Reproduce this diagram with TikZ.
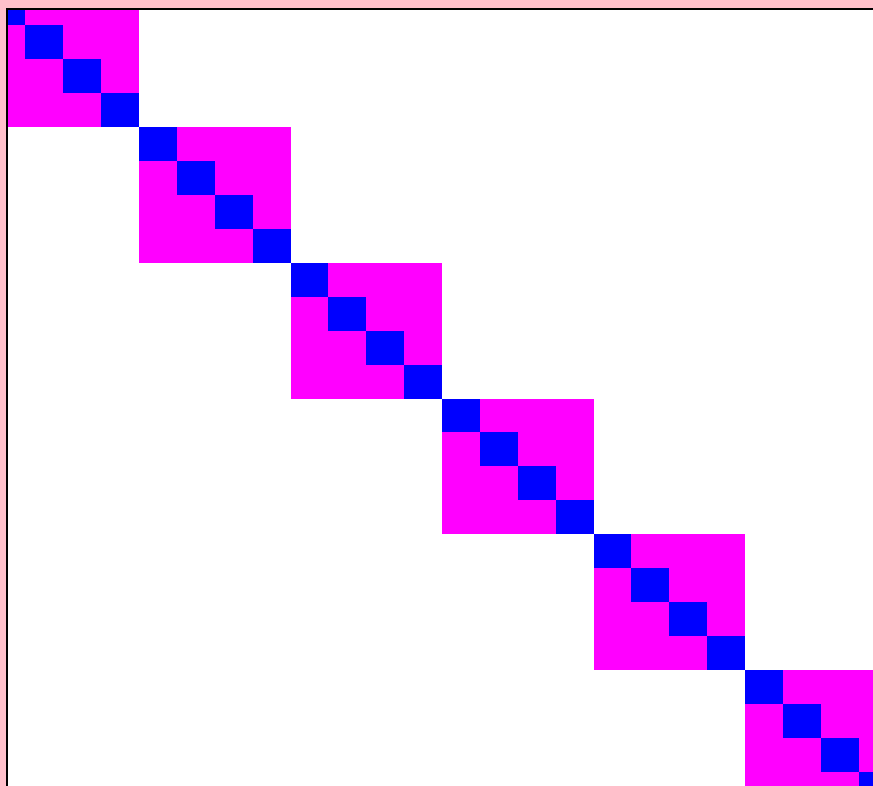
\documentclass[tikz,border=0pt]{standalone}
\definecolor{bgpink}{HTML}{FFC0CB}
\definecolor{cellmag}{HTML}{FF00FF}
\definecolor{cellblue}{HTML}{0000FF}
\begin{document}
\begin{tikzpicture}[x=1pt,y=-1pt,
  blockfill/.style={fill=cellmag},
  diagfill/.style={fill=cellblue},
  framepen/.style={draw=black,line width=2pt}]
\useasboundingbox (0,0) rectangle (873,786);
\fill[bgpink] (0,0) rectangle (873,786);
\fill[white] (8,10) rectangle (873,786);
\begin{scope}
  \clip (8,10) rectangle (873,786);
  \foreach \k in {0,...,5} {
    \path[blockfill] ({-12.5+151.5*\k},{-8.75+135.75*\k}) rectangle +(151.5,135.75);
    \foreach \i in {0,...,3}
      \path[diagfill] ({-12.5+151.5*\k+37.875*\i},{-8.75+135.75*\k+33.9375*\i}) rectangle +(37.875,33.9375);
  }
\end{scope}
\draw[framepen] (7,786) -- (7,9) -- (873,9);
\end{tikzpicture}
\end{document}
